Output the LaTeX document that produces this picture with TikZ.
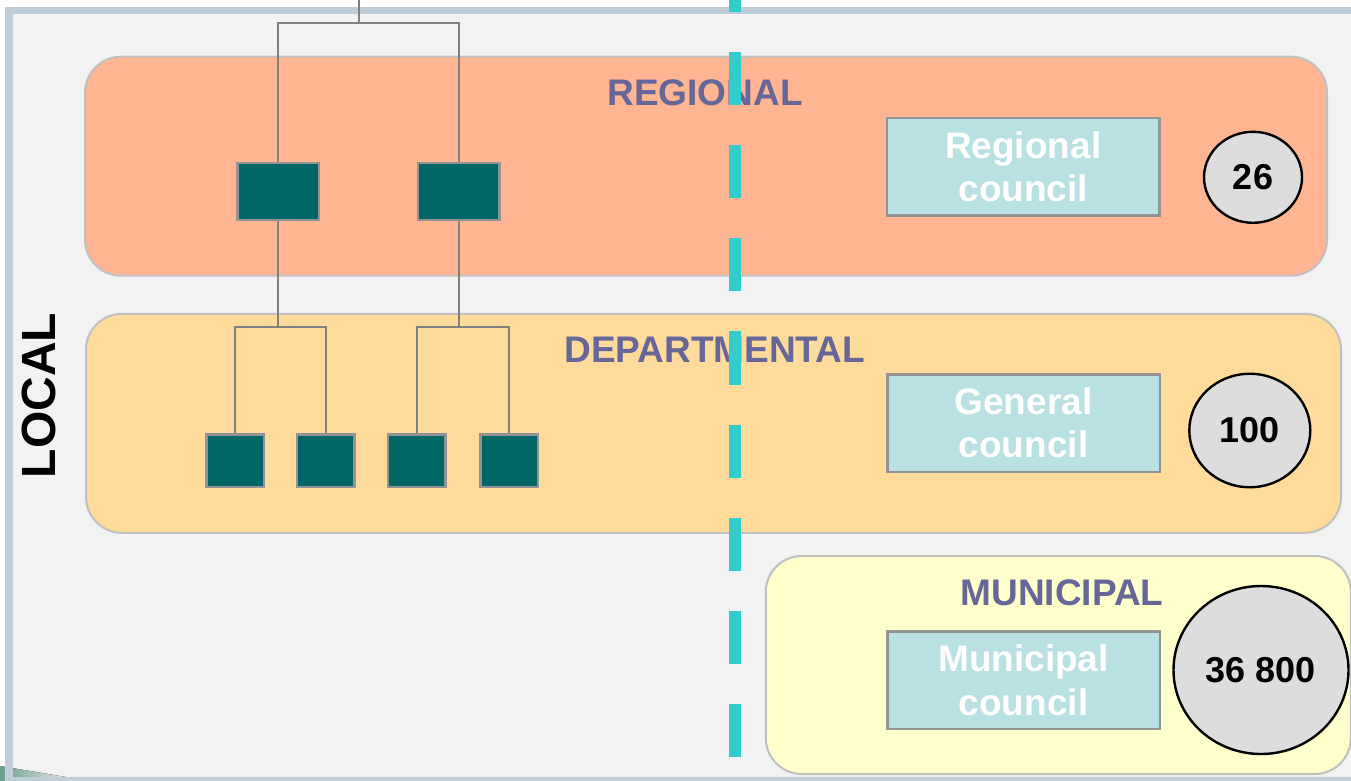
\documentclass[tikz,border=0pt]{standalone}
\usepackage{fontspec}
\setmainfont{Liberation Sans}
\usetikzlibrary{shapes.geometric}
\definecolor{framec}{HTML}{BFCDD8}
\definecolor{bgc}{HTML}{F2F2F2}
\definecolor{regc}{HTML}{FFB591}
\definecolor{depc}{HTML}{FFDB9B}
\definecolor{munc}{HTML}{FFFFCC}
\definecolor{bandline}{HTML}{C0C0C0}
\definecolor{tealc}{HTML}{006666}
\definecolor{boxline}{HTML}{939393}
\definecolor{treec}{HTML}{808080}
\definecolor{councc}{HTML}{B9E0E3}
\definecolor{labc}{HTML}{666699}
\definecolor{circc}{HTML}{DDDDDD}
\definecolor{dashc}{HTML}{33CCCC}
\definecolor{greenc}{HTML}{6E9E8E}
\begin{document}
\begin{tikzpicture}[x=1pt,y=-1pt,
  band/.style={draw=bandline, line width=2pt, rounded corners=36pt, inner sep=0pt},
  orgbox/.style={draw=boxline, fill=tealc, line width=2.5pt, inner sep=0pt},
  tree/.style={draw=treec, line width=2pt},
  council/.style={draw=boxline, fill=councc, line width=2.5pt, inner sep=0pt,
    minimum width=272.5pt, minimum height=97.5pt, text=white, align=center,
    font=\fontsize{37}{43.5}\selectfont\bfseries},
  count/.style={ellipse, draw=black, fill=circc, line width=2.4pt, inner sep=0pt,
    font=\fontsize{36}{43}\selectfont\bfseries},
  levellabel/.style={text=labc, anchor=base, inner sep=0pt,
    font=\fontsize{37}{44}\selectfont\bfseries}]
\useasboundingbox (0,0) rectangle (1351,781);
\fill[white] (0,0) rectangle (1351,781);
\fill[bgc] (9,10.5) rectangle (1360,781);
\fill[left color=greenc, right color=bgc] (0,766) -- (78,779) -- (78,781) -- (0,781) -- cycle;
\draw[framec, line width=7.5pt] (9,10.5) rectangle (1360,781);

% bands
\node[band, fill=regc, minimum width=1242pt, minimum height=219pt] (reg) at (706,166.2) {};
\node[band, fill=depc, minimum width=1255pt, minimum height=219pt] (dep) at (713.5,423.3) {};
\node[band, fill=munc, minimum width=585pt, minimum height=218pt] (mun) at (1058.3,665) {};

% level labels
\node[levellabel] (lreg) at (705,106) {REGIONAL};
\node[levellabel] (ldep) at (714.7,362.7) {DEPARTMENTAL};
\node[levellabel] (lmun) at (1062,605) {MUNICIPAL};

% LOCAL
\node[rotate=90, inner sep=0pt, font=\fontsize{48}{56}\selectfont\bfseries] (local) at (39,395.5) {LOCAL};

% org boxes
\node[orgbox, minimum width=81.5pt, minimum height=57pt] (r1) at (278,191.5) {};
\node[orgbox, minimum width=81.5pt, minimum height=57pt] (r2) at (458.5,191.5) {};
\node[orgbox, minimum width=57.5pt, minimum height=52.5pt] (d1) at (235,460.5) {};
\node[orgbox, minimum width=57.5pt, minimum height=52.5pt] (d2) at (325.7,460.5) {};
\node[orgbox, minimum width=57.5pt, minimum height=52.5pt] (d3) at (416.6,460.5) {};
\node[orgbox, minimum width=57.5pt, minimum height=52.5pt] (d4) at (509,460.5) {};

% tree connectors
\coordinate (top) at (359,0);
\draw[tree] (top) -- ++(0,23) -| (r1.north);
\draw[tree] (top) -- ++(0,23) -| (r2.north);
\draw[tree] (r1.south) -- ++(0,105.5) -| (d1.north);
\draw[tree] (r1.south) -- ++(0,105.5) -| (d2.north);
\draw[tree] (r2.south) -- ++(0,105.5) -| (d3.north);
\draw[tree] (r2.south) -- ++(0,105.5) -| (d4.north);

% councils
\node[council] (rc) at (1023.2,166.7) {Regional\\council};
\node[council] (gc) at (1023.5,423) {General\\council};
\node[council] (mc) at (1023.5,680.3) {Municipal\\council};

% counts
\node[count, minimum width=98pt, minimum height=91pt] (c1) at (1253,177.3) {26};
\node[count, minimum width=121pt, minimum height=113.5pt] (c2) at (1249.8,430.5) {100};
\node[count, minimum width=175pt, minimum height=168pt] (c3) at (1261,670) {36 800};

% dashed divider
\coordinate (dtop) at (735,-41.5);
\coordinate (dbot) at (735,800);
\draw[dashc, line width=12.5pt, dash pattern=on 53.2pt off 40pt] (dtop) -- (dbot);
\end{tikzpicture}
\end{document}
